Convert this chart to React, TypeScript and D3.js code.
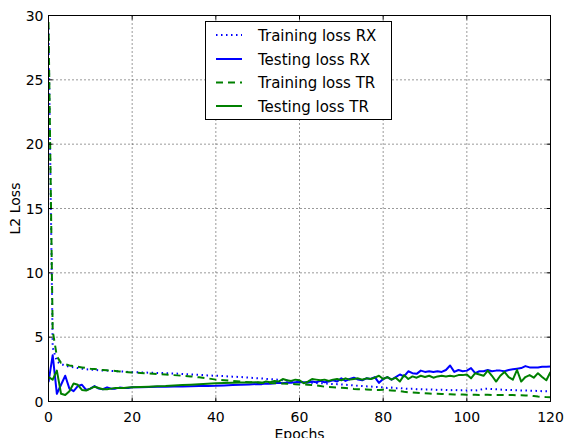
import React, { useRef, useEffect } from "react";
import * as d3 from "d3";

// epochs where values were read (dense where the curves wiggle)
const epochs = [
  0, 1, 2, 3, 4, 5, 6, 7, 8, 9, 10, 11, 12, 13, 14, 15, 16, 17, 18, 19, 20,
  22, 24, 26, 28, 30, 32, 34, 36, 38, 40, 42, 44, 46, 48,
  50, 51, 52, 53, 54, 55, 56, 57, 58, 59, 60, 61, 62, 63, 64, 65, 66, 67, 68, 69,
  70, 71, 72, 73, 74, 75, 76, 77, 78, 79, 80, 81, 82, 83, 84, 85, 86, 87, 88, 89,
  90, 91, 92, 93, 94, 95, 96, 97, 98, 99, 100, 101, 102, 103, 104, 105, 106, 107, 108, 109,
  110, 111, 112, 113, 114, 115, 116, 117, 118, 119, 120,
];

const trainRX = [
  29.0, 4.2, 3.1, 2.9, 2.8, 2.7, 2.65, 2.6, 2.55, 2.5, 2.48, 2.45, 2.43, 2.41, 2.4, 2.38, 2.36, 2.34, 2.32, 2.3, 2.28,
  2.26, 2.24, 2.22, 2.2, 2.18, 2.14, 2.1, 2.07, 2.03, 2.0, 1.97, 1.93, 1.9, 1.85,
  1.81, 1.79, 1.76, 1.74, 1.71, 1.69, 1.66, 1.63, 1.6, 1.58, 1.55, 1.5, 1.47, 1.45, 1.43, 1.42, 1.4, 1.38, 1.36, 1.35,
  1.33, 1.3, 1.28, 1.25, 1.22, 1.2, 1.18, 1.16, 1.14, 1.12, 1.1, 1.05, 1.08, 1.03, 1.05, 1.0, 0.98, 1.0, 0.96, 0.95,
  0.93, 0.95, 0.92, 0.9, 0.92, 0.9, 0.88, 0.9, 0.87, 0.88, 0.86, 0.88, 0.85, 0.9, 0.98, 1.0, 0.97, 0.95, 0.93, 0.9,
  0.9, 0.88, 0.87, 0.86, 0.85, 0.84, 0.83, 0.82, 0.8, 0.8, 0.78,
];

const testRX = [
  1.5, 3.6, 0.6, 1.3, 2.0, 1.0, 0.8, 1.2, 1.3, 0.9, 1.0, 1.2, 1.0, 0.95, 1.1, 1.0, 1.0, 1.08, 1.05, 1.05, 1.1,
  1.1, 1.12, 1.14, 1.15, 1.16, 1.17, 1.18, 1.2, 1.21, 1.22, 1.25, 1.28, 1.3, 1.33,
  1.36, 1.35, 1.4, 1.38, 1.42, 1.45, 1.42, 1.48, 1.45, 1.5, 1.52, 1.5, 1.48, 1.55, 1.5, 1.6, 1.5, 1.55, 1.65, 1.55,
  1.8, 1.6, 1.75, 1.85, 1.7, 1.65, 1.8, 1.75, 1.9, 1.45, 1.75, 1.9, 1.7, 1.9, 2.1, 1.95, 2.35, 2.2, 2.15, 2.4,
  2.3, 2.35, 2.3, 2.35, 2.3, 2.45, 2.8, 2.3, 2.45, 2.35, 2.4, 2.6, 2.2, 2.35, 2.35, 2.45, 2.35, 2.4, 2.4, 2.35,
  2.45, 2.5, 2.55, 2.6, 2.75, 2.65, 2.65, 2.65, 2.7, 2.7, 2.72,
];

const trainTR = [
  29.5, 5.5, 3.5, 3.0, 2.9, 2.8, 2.75, 2.7, 2.65, 2.6, 2.55, 2.52, 2.48, 2.45, 2.42, 2.4, 2.37, 2.34, 2.3, 2.28, 2.25,
  2.22, 2.18, 2.14, 2.1, 2.05, 2.0, 1.95, 1.88, 1.8, 1.7, 1.65, 1.6, 1.55, 1.5,
  1.47, 1.45, 1.45, 1.43, 1.42, 1.4, 1.4, 1.38, 1.36, 1.35, 1.33, 1.32, 1.3, 1.28, 1.25, 1.2, 1.15, 1.12, 1.1, 1.08,
  1.06, 1.04, 1.02, 0.98, 0.96, 0.95, 0.94, 0.92, 0.9, 0.9, 0.92, 0.88, 0.86, 0.84, 0.8, 0.75, 0.72, 0.7, 0.68, 0.66,
  0.64, 0.62, 0.6, 0.6, 0.58, 0.57, 0.56, 0.55, 0.55, 0.54, 0.52, 0.52, 0.52, 0.5, 0.52, 0.52, 0.5, 0.5, 0.5, 0.5,
  0.5, 0.5, 0.48, 0.48, 0.47, 0.45, 0.42, 0.38, 0.36, 0.34, 0.33,
];

const testTR = [
  1.9, 1.7, 2.4, 0.6, 0.5, 0.8, 1.4, 1.3, 0.9, 0.85, 1.0, 1.15, 1.05, 0.95, 0.95, 1.0, 1.05, 1.05, 1.05, 1.08, 1.1,
  1.12, 1.15, 1.18, 1.2, 1.24, 1.28, 1.31, 1.34, 1.38, 1.42, 1.43, 1.45, 1.47, 1.48,
  1.5, 1.45, 1.55, 1.5, 1.6, 1.55, 1.75, 1.65, 1.6, 1.7, 1.65, 1.42, 1.55, 1.75, 1.7, 1.65, 1.7, 1.6, 1.7, 1.75,
  1.65, 1.8, 1.7, 1.75, 1.8, 1.7, 1.8, 1.75, 1.85, 2.0, 1.75, 1.9, 1.7, 1.85, 1.55, 2.05, 1.75, 1.95, 1.85, 2.0,
  1.9, 2.0, 1.85, 1.95, 2.0, 1.95, 2.0, 1.95, 2.05, 2.05, 2.1, 1.8, 2.2, 2.1, 2.0, 2.4, 2.0, 1.55, 2.0, 2.3,
  1.9, 1.7, 2.45, 1.55, 1.9, 2.05, 1.85, 2.2, 1.9, 1.65, 2.3,
];

const seriesNames = ["Training loss RX", "Testing loss RX", "Training loss TR", "Testing loss TR"];
const xTicks = [0, 20, 40, 60, 80, 100, 120];
const yTicks = [0, 5, 10, 15, 20, 25, 30];

function LossChart() {
  const svgRef = useRef(null);

  useEffect(() => {
    const width = 564, height = 438;
    const left = 48.5, right = 550.5, top = 15.5, bottom = 401.5;
    const font = "DejaVu Sans, sans-serif";

    const svg = d3.select(svgRef.current);
    svg.selectAll("*").remove();

    const x = d3.scaleLinear().domain([0, 120]).range([left, right]);
    const y = d3.scaleLinear().domain([0, 30]).range([bottom, top]);

    // grid
    const grid = svg.append("g");
    xTicks.slice(1, -1).forEach((t) => {
      grid.append("line")
        .attr("x1", x(t)).attr("x2", x(t)).attr("y1", top).attr("y2", bottom)
        .attr("stroke", "#000").attr("stroke-width", 0.8).attr("stroke-dasharray", "1,3");
    });
    yTicks.slice(1, -1).forEach((t) => {
      grid.append("line")
        .attr("x1", left).attr("x2", right).attr("y1", y(t)).attr("y2", y(t))
        .attr("stroke", "#000").attr("stroke-width", 0.8).attr("stroke-dasharray", "1,3");
    });

    const rows = epochs.map((e, i) => ({ e, a: trainRX[i], b: testRX[i], c: trainTR[i], d: testTR[i] }));
    const styles = [
      { key: "a", color: "#0000ff", dash: "1.5,3.5" },
      { key: "b", color: "#0000ff", dash: null },
      { key: "c", color: "#008000", dash: "7,5" },
      { key: "d", color: "#008000", dash: null },
    ];

    const clip = svg.append("clipPath").attr("id", "plotclip");
    clip.append("rect").attr("x", left).attr("y", top).attr("width", right - left).attr("height", bottom - top);

    const plot = svg.append("g").attr("clip-path", "url(#plotclip)");
    styles.forEach((s) => {
      const line = d3.line()
        .x((d) => x(d.e))
        .y((d) => y(d[s.key]));
      plot.append("path")
        .datum(rows)
        .attr("d", line)
        .attr("fill", "none")
        .attr("stroke", s.color)
        .attr("stroke-width", 2)
        .attr("stroke-linejoin", "round")
        .attr("stroke-dasharray", s.dash);
    });

    // frame
    svg.append("rect")
      .attr("x", left).attr("y", top).attr("width", right - left).attr("height", bottom - top)
      .attr("fill", "none").attr("stroke", "#000").attr("stroke-width", 1);

    // inward ticks on all sides
    const tk = svg.append("g").attr("stroke", "#000").attr("stroke-width", 1);
    xTicks.forEach((t) => {
      tk.append("line").attr("x1", x(t)).attr("x2", x(t)).attr("y1", bottom).attr("y2", bottom - 4);
      tk.append("line").attr("x1", x(t)).attr("x2", x(t)).attr("y1", top).attr("y2", top + 4);
    });
    yTicks.forEach((t) => {
      tk.append("line").attr("x1", left).attr("x2", left + 4).attr("y1", y(t)).attr("y2", y(t));
      tk.append("line").attr("x1", right).attr("x2", right - 4).attr("y1", y(t)).attr("y2", y(t));
    });

    xTicks.forEach((t) => {
      svg.append("text")
        .attr("x", x(t)).attr("y", bottom + 20)
        .attr("text-anchor", "middle")
        .attr("font-family", font).attr("font-size", 14)
        .text(t);
    });
    yTicks.forEach((t) => {
      svg.append("text")
        .attr("x", left - 5).attr("y", y(t) + 5)
        .attr("text-anchor", "end")
        .attr("font-family", font).attr("font-size", 14)
        .text(t);
    });

    svg.append("text")
      .attr("x", (left + right) / 2).attr("y", bottom + 37)
      .attr("text-anchor", "middle")
      .attr("font-family", font).attr("font-size", 14)
      .text("Epochs");
    svg.append("text")
      .attr("transform", `translate(20,${(top + bottom) / 2}) rotate(-90)`)
      .attr("text-anchor", "middle")
      .attr("font-family", font).attr("font-size", 14)
      .text("L2 Loss");

    // legend
    const lg = svg.append("g");
    lg.append("rect")
      .attr("x", 205.5).attr("y", 21.5).attr("width", 186).attr("height", 98)
      .attr("fill", "#fff").attr("stroke", "#000").attr("stroke-width", 1);
    const rowY = [35, 59, 82.5, 106];
    styles.forEach((s, i) => {
      lg.append("line")
        .attr("x1", 216).attr("x2", 242).attr("y1", rowY[i]).attr("y2", rowY[i])
        .attr("stroke", s.color).attr("stroke-width", 2)
        .attr("stroke-dasharray", s.dash);
      lg.append("text")
        .attr("x", 258).attr("y", rowY[i] + 5.5)
        .attr("font-family", font).attr("font-size", 15)
        .text(seriesNames[i]);
    });
  }, []);

  return <svg ref={svgRef} width={564} height={438} style={{ position: "absolute", left: 0, top: 0, background: "#fff" }} />;
}

export default function App() {
  return <LossChart />;
}
